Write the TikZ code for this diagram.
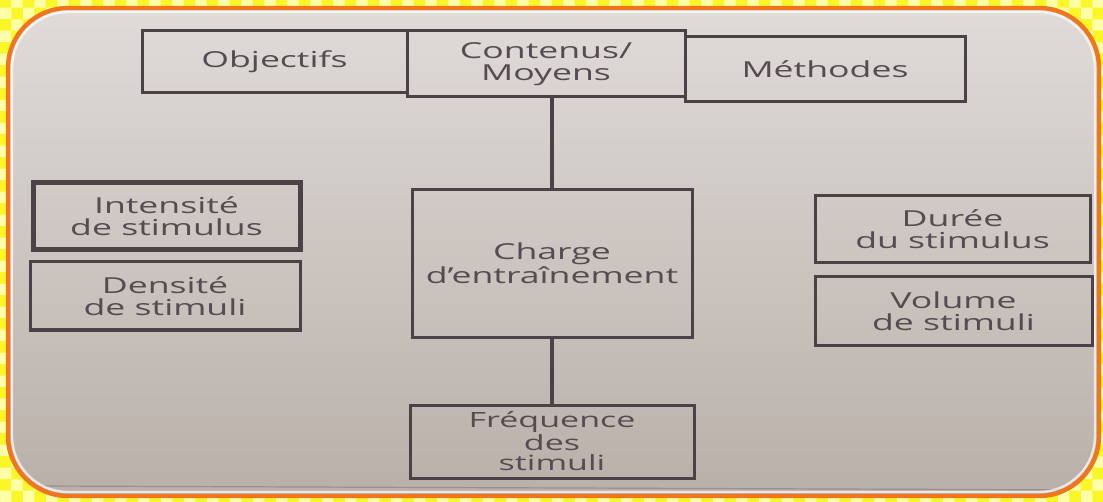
\documentclass[tikz,border=0pt]{standalone}
\usepackage{fontspec}
\usetikzlibrary{patterns}
\newfontfamily\boxfont[FakeStretch=1.62]{Open Sans}
\definecolor{ink}{RGB}{74,66,70}
\definecolor{txt}{RGB}{84,76,80}
\definecolor{paperTop}{RGB}{224,220,218}
\definecolor{paperBot}{RGB}{184,175,168}
\definecolor{frameOrange}{RGB}{240,118,30}
\definecolor{checkA}{RGB}{250,246,40}
\definecolor{checkB}{RGB}{255,255,170}
\tikzset{
  box/.style={draw=ink, line width=1.5pt, rectangle, inner sep=0pt,
    align=center, text=txt,
    font=\boxfont\fontsize{11}{11}\selectfont},
  heavybox/.style={box, line width=2.5pt},
  link/.style={draw=ink, line width=2.3pt},
}
\begin{document}
\begin{tikzpicture}[x=0.5pt,y=-0.5pt]
\useasboundingbox (0,0) rectangle (1103,502);
% checkered margin
\fill[checkA] (0,0) rectangle (1103,502);
\fill[pattern=checkerboard, pattern color=checkB] (0,0) rectangle (1103,502);
% paper inside the rounded frame
\begin{scope}
  \clip[rounded corners=30pt] (8,8) rectangle (1099,496);
  \shade[top color=paperTop, bottom color=paperBot] (0,0) rectangle (1103,502);
  \draw[ink!70, line width=0.6pt, opacity=0.6] (40,486) -- (1099,490);
\end{scope}
\draw[white, line width=1.2pt, opacity=0.7, rounded corners=28pt] (12,12) rectangle (1095,492);
\draw[frameOrange, line width=2.2pt, rounded corners=30pt] (8,8) rectangle (1099,496);

% top row
\node[box, minimum width=132.5pt, minimum height=31pt] (obj) at (274.5,62) {Objectifs};
\node[box, minimum width=139pt, minimum height=33pt] (cont) at (546,64) {Contenus/\\Moyens};
\node[box, minimum width=140pt, minimum height=32.5pt] (meth) at (825,69.5) {Méthodes};

% centre column
\node[box, minimum width=140pt, minimum height=73.5pt] (charge) at (552,263.5) {Charge\\d’entraînement};
\node[box, minimum width=142pt, minimum height=36.5pt, font=\boxfont\fontsize{10.5}{10}\selectfont] (freq) at (552,441.5) {Fréquence\\des\\stimuli};

% left column
\node[heavybox, minimum width=133.5pt, minimum height=33.5pt] (inten) at (166.5,216.5) {Intensité\\de stimulus};
\node[box, minimum width=135pt, minimum height=34pt] (dens) at (165,296) {Densité\\de stimuli};

% right column
\node[box, minimum width=137.5pt, minimum height=33.5pt] (duree) at (952.5,229.5) {Durée\\du stimulus};
\node[box, minimum width=138.5pt, minimum height=34pt] (vol) at (953.5,311) {Volume\\de stimuli};

% connectors
\draw[link] (charge.north) -- (charge.north |- cont.south);
\draw[link] (charge.south) -- (freq.north);
\end{tikzpicture}
\end{document}
